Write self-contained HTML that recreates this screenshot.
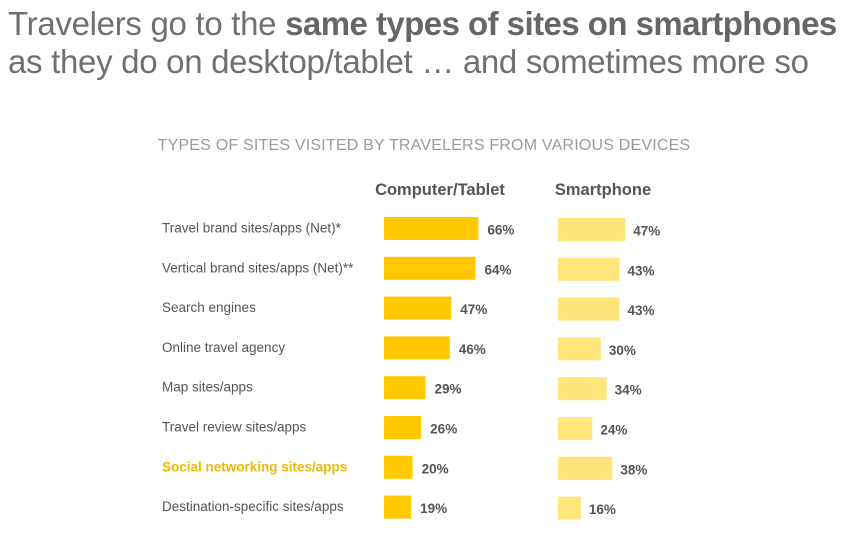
<!DOCTYPE html>
<html><head><meta charset="utf-8"><style>
body{margin:0;background:#fff;font-family:"Liberation Sans",sans-serif;}
#w{position:relative;width:848px;height:550px;overflow:hidden}
.t{position:absolute;left:8px;font-size:33px;color:#707070;white-space:nowrap;letter-spacing:-0.3px}
</style></head><body><div id="w">
<div class="t" style="top:5px">Travelers go to the <b style="color:#666;letter-spacing:-0.55px">same types of sites on smartphones</b></div>
<div class="t" style="top:43px">as they do on desktop/tablet … and sometimes more so</div>
<svg id="c" width="848" height="550" style="position:absolute;left:0;top:0">
<text x="424" y="150" text-anchor="middle" font-size="16" fill="#9a9a9a" letter-spacing="0.2">TYPES OF SITES VISITED BY TRAVELERS FROM VARIOUS DEVICES</text>
<text x="440" y="195" text-anchor="middle" font-size="16.5" font-weight="bold" fill="#555">Computer/Tablet</text>
<text x="603" y="195" text-anchor="middle" font-size="16.5" font-weight="bold" fill="#555">Smartphone</text>
</svg>
<script>
const categories=["Travel brand sites/apps (Net)*","Vertical brand sites/apps (Net)**","Search engines","Online travel agency","Map sites/apps","Travel review sites/apps","Social networking sites/apps","Destination-specific sites/apps"];
const computerValues=[66,64,47,46,29,26,20,19];
const smartphoneValues=[47,43,43,30,34,24,38,16];
const svg=document.getElementById('c');const NS='http://www.w3.org/2000/svg';
const scale=v=>v*1.43;
const rowY=i=>228.5+i*39.8;
function mk(tag,attrs){const e=document.createElementNS(NS,tag);for(const k in attrs)e.setAttribute(k,attrs[k]);svg.appendChild(e);return e;}
categories.forEach((c,i)=>{
 const y=rowY(i);const hl=i===6;
 const t=mk('text',{x:162,y:y+4,'font-size':13.5,fill:hl?'#f2b800':'#555','font-weight':hl?'bold':'normal'});t.textContent=c;
 
 
 const b1=mk('rect',{x:384,y:y-11.5,width:scale(computerValues[i]),height:23,fill:'#ffc800'});
 
 
 const l1=mk('text',{x:384+scale(computerValues[i])+9,y:y+6,'font-size':13.5,'font-weight':'bold',fill:'#555'});l1.textContent=computerValues[i]+'%';
 
 
 const b2=mk('rect',{x:558,y:y-10.5,width:scale(smartphoneValues[i]),height:23,fill:'#ffe57a'});
 
 
 const l2=mk('text',{x:558+scale(smartphoneValues[i])+8,y:y+7,'font-size':13.5,'font-weight':'bold',fill:'#555'});l2.textContent=smartphoneValues[i]+'%';
 
 
});
</script>
</div></body></html>
